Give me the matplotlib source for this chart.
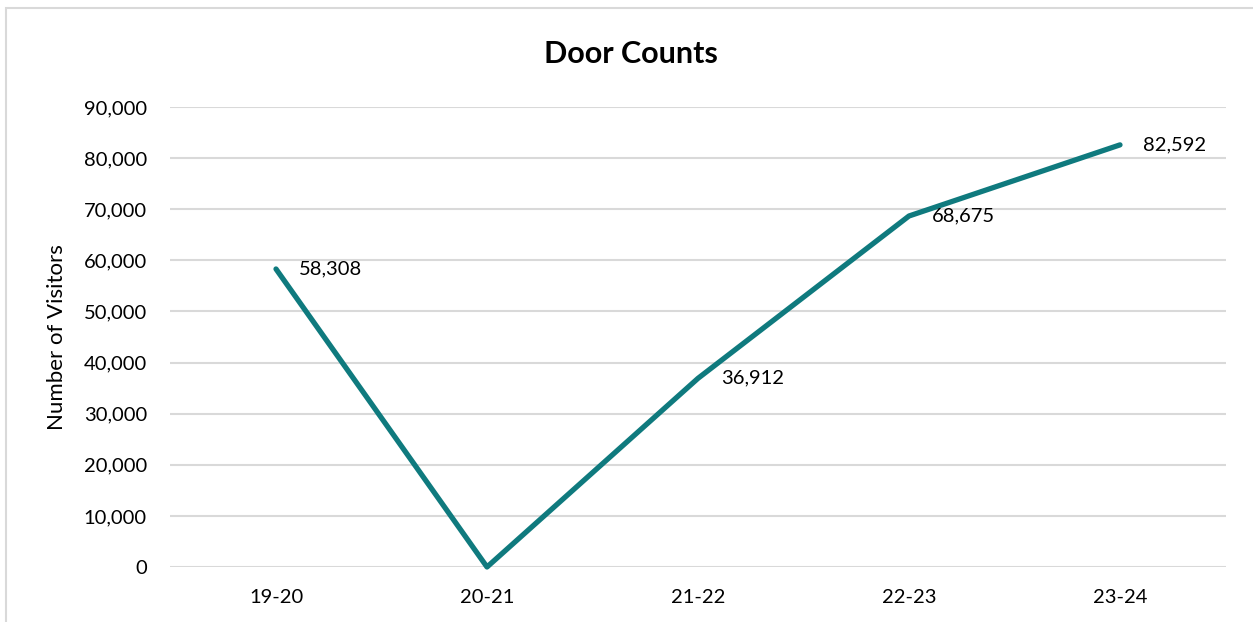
import matplotlib
matplotlib.use("Agg")
import matplotlib.pyplot as plt
from matplotlib.patches import Rectangle
from matplotlib.ticker import FuncFormatter

# Annual door counts by academic year
years = ["19-20", "20-21", "21-22", "22-23", "23-24"]
visitors = [58308, 0, 36912, 68675, 82592]
y_ticks = list(range(0, 90001, 10000))

plt.rcParams["font.family"] = ["Lato", "DejaVu Sans"]

W, H = 1253, 622
fig = plt.figure(figsize=(W / 100, H / 100), dpi=100)

# light chart-area border
fig.patches.append(Rectangle((6 / W, -0.05), 1.1, 1 - 8 / H + 0.05,
                             transform=fig.transFigure, fill=False,
                             edgecolor="#D9D9D9", linewidth=1.5))

left, right = 170.5 / W, 1225.5 / W
bottom, top = 1 - 567 / H, 1 - 107 / H
ax = fig.add_axes([left, bottom, right - left, top - bottom])

x = list(range(len(years)))
ax.plot(x, visitors, color="#0F7A7E", linewidth=3.8, solid_capstyle="round",
        solid_joinstyle="round", zorder=3, clip_on=False)

for xi, v in zip(x, visitors):
    if v:
        ax.annotate(f"{v:,}", (xi, v), xytext=(23, 0), textcoords="offset pixels",
                    ha="left", va="center", fontsize=14.5, color="#000000")

ax.set_xlim(-0.5, len(years) - 0.5)
ax.set_ylim(0, 90000)
ax.set_xticks(x)
ax.set_xticklabels(years)
ax.set_yticks(y_ticks)
ax.yaxis.set_major_formatter(FuncFormatter(lambda v, _: f"{int(v):,}"))
ax.tick_params(axis="both", length=0, labelsize=14.5, colors="#000000")
ax.tick_params(axis="y", pad=17)
ax.tick_params(axis="x", pad=16)
ax.grid(axis="y", color="#D9D9D9", linewidth=1.5)
ax.set_axisbelow(True)
for s in ax.spines.values():
    s.set_visible(False)

ax.set_ylabel("Number of Visitors", fontsize=16, labelpad=12)
fig.text(631 / W, 1 - 54 / H, "Door Counts", ha="center", va="center",
         fontsize=22, fontweight="bold")

fig.savefig("out.png", dpi=100, facecolor="white")
